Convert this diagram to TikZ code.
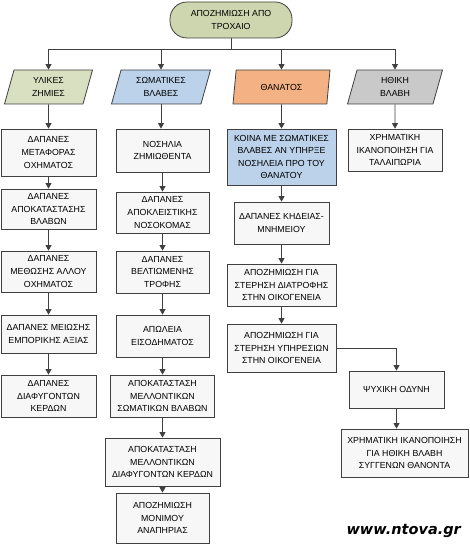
\documentclass[tikz,border=0pt]{standalone}
\usepackage{fontspec}
\setmainfont{Liberation Sans}
\newfontfamily\webfont{DejaVu Sans}
\usepackage{xcolor}
\usetikzlibrary{arrows.meta,shapes.geometric,positioning}
\definecolor{lineg}{HTML}{404040}
\definecolor{olive}{HTML}{CDD6AE}
\definecolor{olivel}{HTML}{D9E0C2}
\definecolor{bluel}{HTML}{BBD2EA}
\definecolor{orangel}{HTML}{F3B184}
\definecolor{grayl}{HTML}{C9C9C9}
\definecolor{boxw}{HTML}{F7F7F7}

\begin{document}
\begin{tikzpicture}[x = 1pt, y = -1pt,
  txt/.style = {align = center, font = \fontsize{8.8}{12.6}\selectfont, inner sep = 0pt},
  box/.style = {txt, draw = lineg, line width = .8pt, fill = boxw},
  lean/.style = {txt, trapezium, trapezium left angle = 63, trapezium right angle = 117,
    trapezium stretches body, draw = lineg, line width = .8pt, minimum height = 34},
  arr/.style = {-{Triangle[length = 5.5pt, width = 6pt]}, draw = lineg, line width = .8pt}]
\useasboundingbox (0,0) rectangle (470,545);
\node[box, fill = olive, rounded corners = 17pt, minimum width = 122, minimum height = 36] (top) at (231,20) {ΑΠΟΖΗΜΙΩΣΗ ΑΠΟ\\ΤΡΟΧΑΙΟ};
\node[lean, fill = olivel, minimum width = 88] (p1) at (48.5,87) {ΥΛΙΚΕΣ\\ΖΗΜΙΕΣ};
\node[lean, fill = bluel, minimum width = 99] (p2) at (161,87) {ΣΩΜΑΤΙΚΕΣ\\ΒΛΑΒΕΣ};
\node[lean, fill = orangel, minimum width = 97] (p3) at (281.5,87) {ΘΑΝΑΤΟΣ};
\node[lean, fill = grayl, minimum width = 95] (p4) at (395,87) {ΗΘΙΚΗ\\ΒΛΑΒΗ};
% material damage
\node[box, minimum width = 95, minimum height = 47] (b1) at (48.5,152.5) {ΔΑΠΑΝΕΣ\\ΜΕΤΑΦΟΡΑΣ\\ΟΧΗΜΑΤΟΣ};
\node[box, minimum width = 95, minimum height = 40] (b2) at (48.5,209) {ΔΑΠΑΝΕΣ\\ΑΠΟΚΑΤΑΣΤΑΣΗΣ\\ΒΛΑΒΩΝ};
\node[box, minimum width = 95, minimum height = 41] (b3) at (48.5,271.5) {ΔΑΠΑΝΕΣ\\ΜΕΘΩΣΗΣ ΑΛΛΟΥ\\ΟΧΗΜΑΤΟΣ};
\node[box, minimum width = 95, minimum height = 38] (b4) at (48.5,334) {ΔΑΠΑΝΕΣ ΜΕΙΩΣΗΣ\\ΕΜΠΟΡΙΚΗΣ ΑΞΙΑΣ};
\node[box, minimum width = 95, minimum height = 42] (b5) at (48.5,396) {ΔΑΠΑΝΕΣ\\ΔΙΑΦΥΓΟΝΤΩΝ\\ΚΕΡΔΩΝ};
% bodily harm
\node[box, minimum width = 93, minimum height = 43] (s1) at (162.5,150.5) {ΝΟΣΗΛΙΑ\\ΖΗΜΙΩΘΕΝΤΑ};
\node[box, minimum width = 93, minimum height = 41] (s2) at (162.5,212.5) {ΔΑΠΑΝΕΣ\\ΑΠΟΚΛΕΙΣΤΙΚΗΣ\\ΝΟΣΟΚΟΜΑΣ};
\node[box, minimum width = 93, minimum height = 42] (s3) at (162.5,272) {ΔΑΠΑΝΕΣ\\ΒΕΛΤΙΩΜΕΝΗΣ\\ΤΡΟΦΗΣ};
\node[box, minimum width = 93, minimum height = 42] (s4) at (162.5,336) {ΑΠΩΛΕΙΑ\\ΕΙΣΟΔΗΜΑΤΟΣ};
\node[box, minimum width = 104, minimum height = 42] (s5) at (162.5,396) {ΑΠΟΚΑΤΑΣΤΑΣΗ\\ΜΕΛΛΟΝΤΙΚΩΝ\\ΣΩΜΑΤΙΚΩΝ ΒΛΑΒΩΝ};
\node[box, minimum width = 115, minimum height = 48] (s6) at (162.5,462) {ΑΠΟΚΑΤΑΣΤΑΣΗ\\ΜΕΛΛΟΝΤΙΚΩΝ\\ΔΙΑΦΥΓΟΝΤΩΝ ΚΕΡΔΩΝ};
\node[box, minimum width = 93, minimum height = 50] (s7) at (162.5,518) {ΑΠΟΖΗΜΙΩΣΗ\\ΜΟΝΙΜΟΥ\\ΑΝΑΠΗΡΙΑΣ};
% death
\node[box, fill = bluel, minimum width = 109, minimum height = 56] (t1) at (281.5,157) {ΚΟΙΝΑ ΜΕ ΣΩΜΑΤΙΚΕΣ\\ΒΛΑΒΕΣ ΑΝ ΥΠΗΡΞΕ\\ΝΟΣΗΛΕΙΑ ΠΡΟ ΤΟΥ\\ΘΑΝΑΤΟΥ};
\node[box, minimum width = 95, minimum height = 42] (t2) at (281.5,223) {ΔΑΠΑΝΕΣ ΚΗΔΕΙΑΣ-\\ΜΝΗΜΕΙΟΥ};
\node[box, minimum width = 109, minimum height = 42] (t3) at (281.5,285) {ΑΠΟΖΗΜΙΩΣΗ ΓΙΑ\\ΣΤΕΡΗΣΗ ΔΙΑΤΡΟΦΗΣ\\ΣΤΗΝ ΟΙΚΟΓΕΝΕΙΑ};
\node[box, minimum width = 109, minimum height = 48] (t4) at (281.5,348) {ΑΠΟΖΗΜΙΩΣΗ ΓΙΑ\\ΣΤΕΡΗΣΗ ΥΠΗΡΕΣΙΩΝ\\ΣΤΗΝ ΟΙΚΟΓΕΝΕΙΑ};
% moral harm
\node[box, minimum width = 94, minimum height = 42] (h1) at (395,150) {ΧΡΗΜΑΤΙΚΗ\\ΙΚΑΝΟΠΟΙΗΣΗ ΓΙΑ\\ΤΑΛΑΙΠΩΡΙΑ};
\node[box, minimum width = 95, minimum height = 37] (h2) at (396.5,389.5) {ΨΥΧΙΚΗ ΟΔΥΝΗ};
\node[box, minimum width = 127, minimum height = 48] (h3) at (404.5,453) {ΧΡΗΜΑΤΙΚΗ ΙΚΑΝΟΠΟΙΗΣΗ\\ΓΙΑ ΗΘΙΚΗ ΒΛΑΒΗ\\ΣΥΓΓΕΝΩΝ ΘΑΝΟΝΤΑ};
\node[anchor = base east, inner sep = 0pt, font = \webfont\bfseries\itshape\fontsize{14.5}{16}\selectfont] (web) at (461,534) {www.ntova.gr};
\draw[arr] (top.south) -- ++(0,11) -| (p1.north);
\draw[arr] (top.south) -- ++(0,11) -| (p2.north);
\draw[arr] (top.south) -- ++(0,11) -| (p3.north);
\draw[arr] (top.south) -- ++(0,11) -| (p4.north);
\draw[arr] (p1.south) -- (b1.north);
\draw[arr] (b1) -- (b2);
\draw[arr] (b2) -- (b3);
\draw[arr] (b3) -- (b4);
\draw[arr] (b4) -- (b5);
\draw[arr] (p2.south) -- (p2.south |- s1.north);
\draw[arr] (s1) -- (s2);
\draw[arr] (s2) -- (s3);
\draw[arr] (s3) -- (s4);
\draw[arr] (s4) -- (s5);
\draw[arr] (s5) -- (s6);
\draw[arr] (s6) -- (s7);
\draw[arr] (p3.south) -- (t1.north);
\draw[arr] (t1) -- (t2);
\draw[arr] (t2) -- (t3);
\draw[arr] (t3) -- (t4);
\draw[arr] (t4.east) -| (h2.north);
\draw[arr] (p4.south) -- (h1.north);
\draw[arr] (h2.south) -- (h2.south |- h3.north);
\end{tikzpicture}
\end{document}
